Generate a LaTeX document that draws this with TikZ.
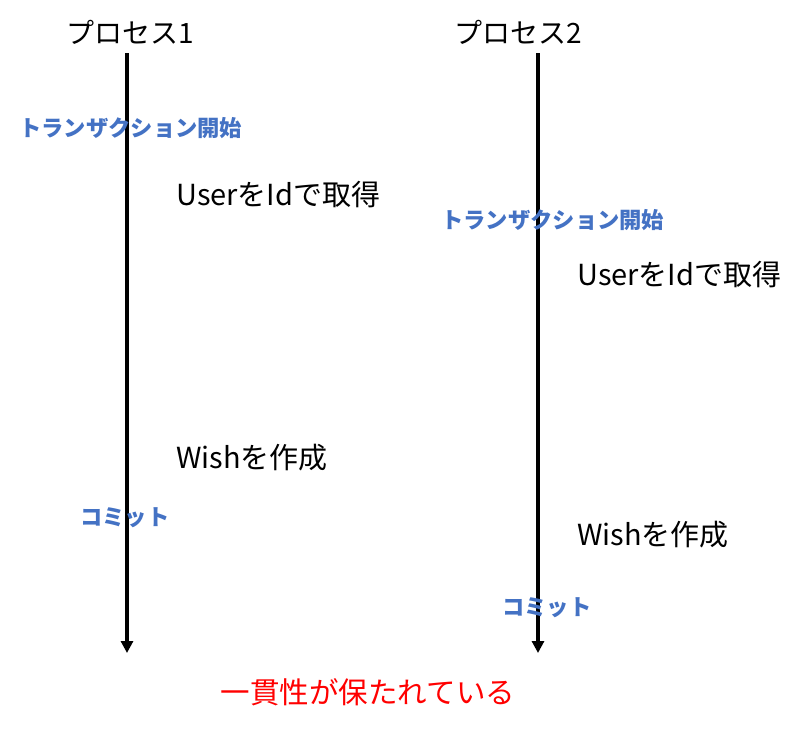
\documentclass[tikz,border=0pt]{standalone}
\usepackage{fontspec}
\setmainfont{Noto Sans CJK JP}
\usetikzlibrary{arrows.meta,positioning}
\definecolor{txnblue}{HTML}{4472C4}
\definecolor{okred}{HTML}{FF0000}
\tikzset{proclabel/.style={
    % Process heading
    font=\fontsize{28}{30}\selectfont,
    inner sep=0pt,
    },
    txnlabel/.style={
    font=\bfseries\fontsize{22.3}{24}\selectfont,
    text=txnblue,
    inner sep=0pt,
    anchor=west,
    },
    oplabel/.style={
    font=\fontsize{29}{31}\selectfont,
    inner sep=0pt,
    anchor=west,
    },
    timeline/.style={
    line width=3.5pt,
    -{Triangle[width=12pt,length=12pt]},
    },
}

\begin{document}
\begin{tikzpicture}[x=1pt,y=-1pt]
    \useasboundingbox (0,0) rectangle (800,728);
    % lifelines
    \coordinate (top1) at (127,53);
    \coordinate (end1) at (127,653);
    \coordinate (top2) at (538,53);
    \coordinate (end2) at (538,653);
    \draw[timeline] (top1) -- (end1);
    \draw[timeline] (top2) -- (end2);

    \node (proc1) [proclabel] at (130,32) {プロセス1};
    \node (proc2) [proclabel] at (518,32) {プロセス2};

    % process 1
    \node (begin1)  [txnlabel] at (19,128)  {トランザクション開始};
    \node (user1)   [oplabel]  at (176,195) {UserをIdで取得};
    \node (wish1)   [oplabel]  at (176,458) {Wishを作成};
    \node (commit1) [txnlabel] at (80,518)  {コミット};

    % process 2
    \node (begin2)  [txnlabel] at (441,220) {トランザクション開始};
    \node (user2)   [oplabel]  at (577,275) {UserをIdで取得};
    \node (wish2)   [oplabel]  at (577,535) {Wishを作成};
    \node (commit2) [txnlabel] at (502,608) {コミット};

    \node (result) [proclabel,text=okred,font=\fontsize{29.5}{31}\selectfont] at (368,692) {一貫性が保たれている};
\end{tikzpicture}
\end{document}
